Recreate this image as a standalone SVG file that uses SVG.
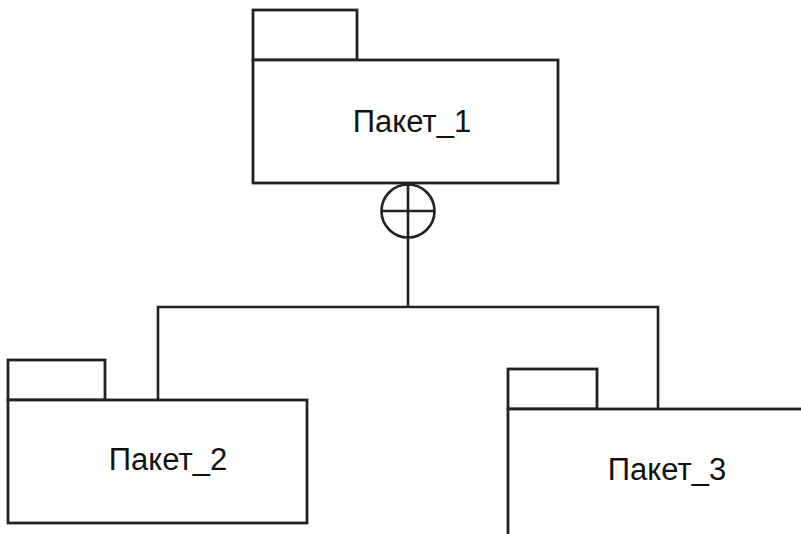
<svg xmlns="http://www.w3.org/2000/svg" width="801" height="534" viewBox="0 0 801 534">
<style>
.s{fill:#fff;stroke:#222;stroke-width:2.8}
.c{fill:none;stroke:#222;stroke-width:2.6}
.t{font-family:"Liberation Sans",Arial,sans-serif;font-size:31px;fill:#111;text-anchor:middle}
</style>
<rect width="801" height="534" fill="#fff"/>
<g id="connectors">
<circle class="c" cx="408" cy="211" r="26.5"/>
<line class="c" x1="381.5" y1="211" x2="434.5" y2="211"/>
<line class="c" x1="408" y1="184" x2="408" y2="307"/>
<polyline class="c" points="158,400 158,307 658,307 658,409"/>
</g>
<g id="pkg1">
<rect class="s" x="253" y="10" width="104" height="50"/>
<rect class="s" x="253" y="60" width="305" height="123"/>
<text class="t" x="412" y="132">Пакет_1</text>
</g>
<g id="pkg2">
<rect class="s" x="8" y="360" width="97" height="40"/>
<rect class="s" x="8" y="400" width="299" height="123"/>
<text class="t" x="168" y="470">Пакет_2</text>
</g>
<g id="pkg3">
<rect class="s" x="508" y="369" width="89" height="40"/>
<rect class="s" x="508" y="409" width="310" height="140"/>
<text class="t" x="667" y="480">Пакет_3</text>
</g>
</svg>
